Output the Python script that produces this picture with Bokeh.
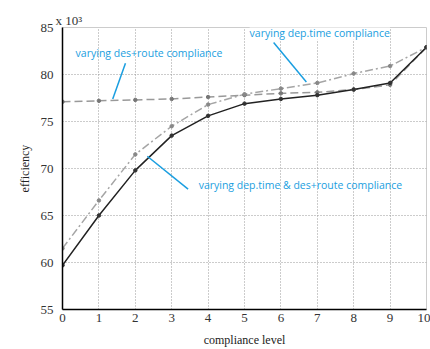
from bokeh.plotting import figure
from bokeh.models import Label, Range1d, FixedTicker, ColumnDataSource
from bokeh.embed import file_html
from bokeh.resources import INLINE

levels = [0, 1, 2, 3, 4, 5, 6, 7, 8, 9, 10]
both = [59.7, 65.0, 69.8, 73.5, 75.6, 76.9, 77.4, 77.8, 78.4, 79.1, 82.9]
dep_time = [61.5, 66.6, 71.5, 74.5, 76.8, 77.9, 78.5, 79.1, 80.1, 80.9, 82.9]
des_route = [77.1, 77.2, 77.3, 77.4, 77.6, 77.8, 78.0, 78.1, 78.4, 78.9, 82.9]
x_ticks = [0, 1, 2, 3, 4, 5, 6, 7, 8, 9, 10]
y_ticks = [55, 60, 65, 70, 75, 80, 85]

serif = "Liberation Serif"
blue = "#1a9ee0"

p = figure(width=430, height=349, output_backend="svg", toolbar_location=None,
           x_range=Range1d(0, 10), y_range=Range1d(55, 85),
           min_border_left=62, min_border_right=4, min_border_top=27, min_border_bottom=38)
p.outline_line_color = "#cccccc"
p.outline_line_width = 1
p.background_fill_color = "white"

p.title.text = "x 10³"
p.title.align = "left"
p.title.offset = -7
p.title.standoff = 0
p.title.text_font = serif
p.title.text_font_size = "13px"
p.title.text_font_style = "normal"
p.title.text_color = "#333333"

for ax in (p.xaxis[0], p.yaxis[0]):
    ax.axis_line_color = "black"
    ax.axis_line_width = 1.5
    ax.major_tick_line_color = None
    ax.minor_tick_line_color = None
    ax.major_tick_out = 0
    ax.minor_tick_out = 0
    ax.major_label_text_font = serif
    ax.major_label_text_font_size = "13px"
    ax.major_label_text_color = "#333333"
    ax.axis_label_text_font = serif
    ax.axis_label_text_font_size = "12px"
    ax.axis_label_text_font_style = "normal"
    ax.axis_label_text_color = "#222222"

p.xaxis[0].ticker = FixedTicker(ticks=x_ticks)
p.yaxis[0].ticker = FixedTicker(ticks=y_ticks)
p.xaxis[0].axis_label = "compliance level"
p.yaxis[0].axis_label = "efficiency"
p.xaxis[0].major_label_standoff = 4
p.yaxis[0].major_label_standoff = 9
p.xaxis[0].axis_label_standoff = 8
p.yaxis[0].axis_label_standoff = 6

p.xgrid.grid_line_color = "#999999"
p.ygrid.grid_line_color = "#999999"
p.xgrid.grid_line_dash = "1 2"
p.ygrid.grid_line_dash = "1 2"
p.xgrid.grid_line_width = 1
p.ygrid.grid_line_width = 1

p.line(levels, des_route, line_color="#999999", line_width=1.5, line_dash="8 4")
p.line(levels, dep_time, line_color="#a5a5a5", line_width=1.5, line_dash="8 3 2 3")
p.line(levels, both, line_color="#222222", line_width=1.5)
for ys, c in ((des_route, "#777777"), (dep_time, "#888888"), (both, "#333333")):
    p.scatter(levels, ys, size=3.5, color=c)

# leader lines (data coordinates)
lead = ColumnDataSource(dict(
    x0=[1.73, 5.80, 2.33],
    y0=[81.2, 83.4, 71.3],
    x1=[1.38, 6.70, 3.45],
    y1=[77.4, 79.2, 67.8],
))
p.segment(x0="x0", y0="y0", x1="x1", y1="y1", source=lead, line_color=blue, line_width=1.5)

lab_kw = dict(text_font="Open Sans", text_font_size="10.5px", text_color=blue,
              text_baseline="middle")
p.add_layout(Label(x=0.36, y=82.25, text="varying des+route compliance", **lab_kw))
p.add_layout(Label(x=5.14, y=84.45, text="varying dep.time compliance",
                   background_fill_color="white", **lab_kw))
p.add_layout(Label(x=3.74, y=68.2, text="varying dep.time & des+route compliance", **lab_kw))

open("out.html", "w").write(file_html(p, INLINE))
